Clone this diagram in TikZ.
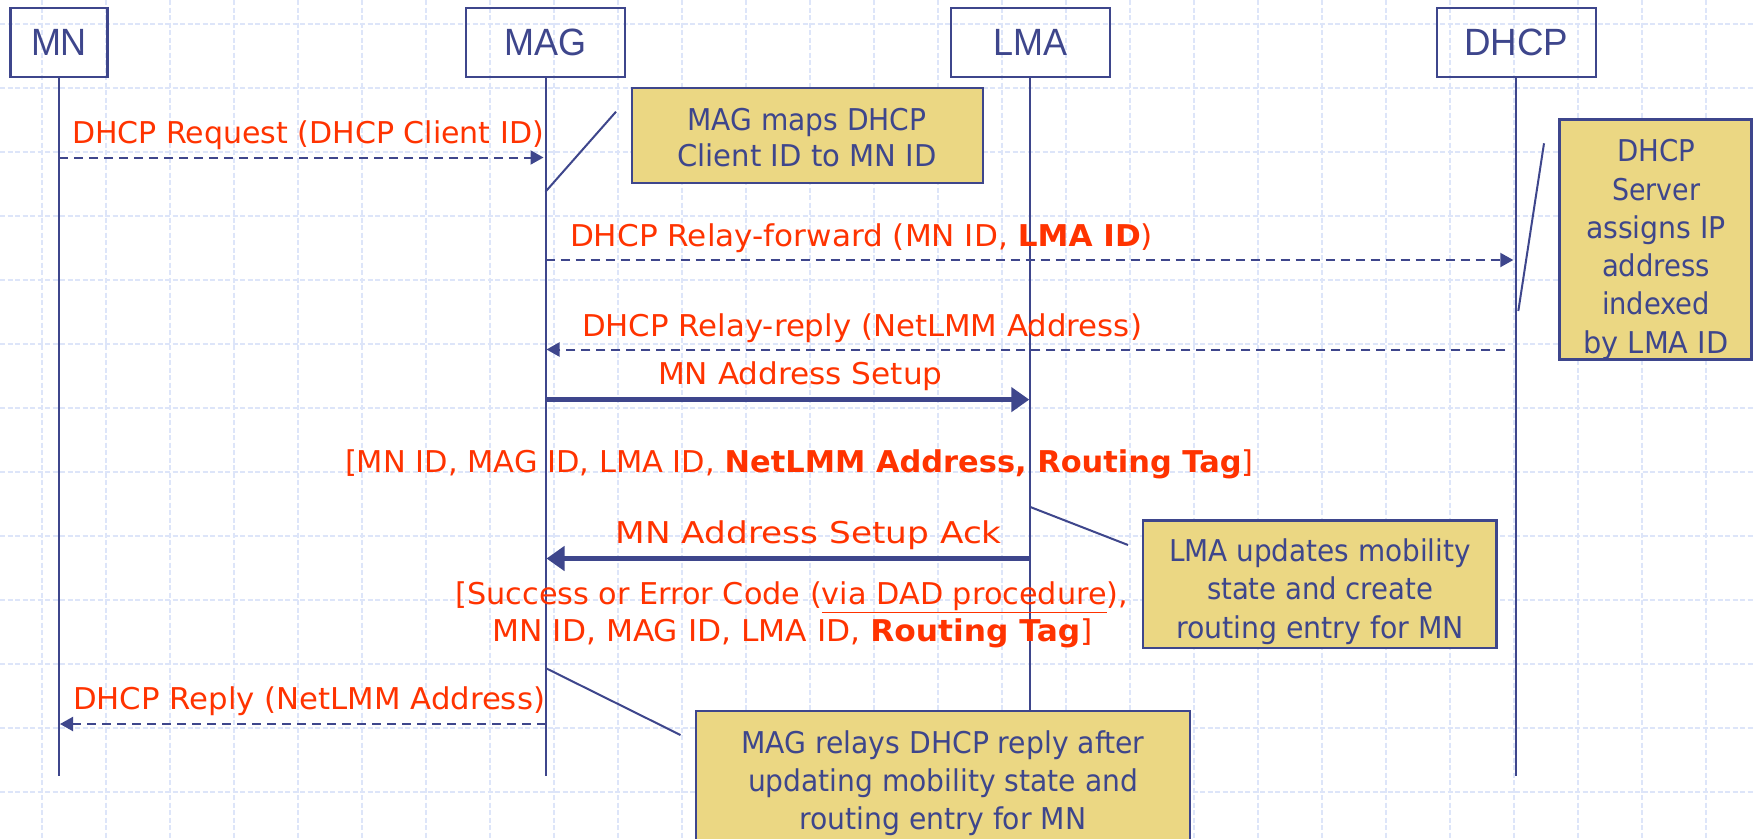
\documentclass[tikz,border=0pt]{standalone}
\usepackage{fontspec}
\usepackage{graphicx}
\usetikzlibrary{arrows.meta}
\newfontfamily\headfont{Liberation Sans}
\newfontfamily\notefont{DejaVu Sans Condensed}
\newfontfamily\msgfont{DejaVu Sans}
\definecolor{ink}{RGB}{62,70,140}
\definecolor{msg}{RGB}{255,51,0}
\definecolor{notefill}{RGB}{235,215,131}
\definecolor{gridc}{RGB}{221,229,249}
% set a text at its natural height, stretched or squeezed to a given width (in pt)
\newsavebox\fitbox
\newcommand\fitto[2]{\sbox\fitbox{#2}\edef\fitf{\fpeval{(#1)/(\the\wd\fitbox)}}\scalebox{\fitf}[1]{\usebox\fitbox}}
\begin{document}
\begin{tikzpicture}[x=1pt,y=-1pt,
  gridline/.style={draw=gridc,line width=1.5pt,dash pattern=on 5pt off 2.5pt},
  actor/.style={draw=ink,line width=2.5pt,text=ink,minimum height=69pt,inner sep=0pt,
    font=\headfont\fontsize{38}{40}\selectfont},
  life/.style={draw=ink,line width=2pt},
  dasharrow/.style={draw=ink,line width=2pt,dash pattern=on 9pt off 6pt,
    -{Triangle[length=13pt,width=14pt]}},
  bigarrow/.style={draw=ink,line width=5.5pt,-{Triangle[length=18pt,width=24pt]}},
  msgtext/.style={text=msg,inner sep=0pt,anchor=base,font=\msgfont\fontsize{30}{36}\selectfont},
  notebox/.style={draw=ink,line width=2.5pt,fill=notefill,inner sep=0pt},
  notetext/.style={text=ink,inner sep=0pt,anchor=base},
  callout/.style={draw=ink,line width=2pt}]
\useasboundingbox (0,0) rectangle (1755,838);
\clip (0,0) rectangle (1755,838);
\fill[white] (0,0) rectangle (1755,838);

% background grid
\foreach \gx in {42,106,...,1706} \draw[gridline] (\gx,0) -- (\gx,838);
\foreach \gy in {24,88,...,792} \draw[gridline] (0,\gy) -- (1755,\gy);

% participants
\node[actor,minimum width=97pt]  (mn)   at (59,42.5)     {\fitto{56}{MN}};
\node[actor,minimum width=159pt] (mag)  at (545.5,42.5)  {\fitto{82}{MAG}};
\node[actor,minimum width=159pt] (lma)  at (1030.3,42.5) {\fitto{74}{LMA}};
\node[actor,minimum width=159pt] (dhcp) at (1516.3,42.5) {\fitto{104}{DHCP}};

% lifelines
\coordinate (lifeend) at (0,775.5);
\draw[life] (mn.south)   -- (mn.south |- lifeend);
\draw[life] (mag.south)  -- (mag.south |- lifeend);
\draw[life] (lma.south)  -- (lma.south |- lifeend);
\draw[life] (dhcp.south) -- (dhcp.south |- lifeend);

% message rows
\coordinate (r1) at (0,157.5);
\coordinate (r2) at (0,260);
\coordinate (r3) at (0,349.5);
\coordinate (r4) at (0,399.6);
\coordinate (r5) at (0,558.5);
\coordinate (r6) at (0,724);

\draw[dasharrow,shorten >=2pt] (mn.south |- r1) -- (mag.south |- r1);
\draw[dasharrow,shorten >=3pt] (mag.south |- r2) -- (dhcp.south |- r2);
\draw[dasharrow,shorten <=11pt,shorten >=1pt] (dhcp.south |- r3) -- (mag.south |- r3);
\draw[bigarrow,shorten >=1pt] (mag.south |- r4) -- (lma.south |- r4);
\draw[bigarrow,shorten >=1pt] (lma.south |- r5) -- (mag.south |- r5);
\draw[dasharrow,shorten >=1pt] (mag.south |- r6) -- (mn.south |- r6);

% message labels
\node[msgtext] (l1) at (308,143)     {\fitto{472}{DHCP Request (DHCP Client ID)}};
\node[msgtext] (l2) at (861.5,246)   {\fitto{583}{DHCP Relay-forward (MN ID, \textbf{LMA ID})}};
\node[msgtext] (l3) at (862,336)     {\fitto{560}{DHCP Relay-reply (NetLMM Address)}};
\node[msgtext] (l4) at (800.3,384)   {\fitto{284.5}{MN Address Setup}};
\node[msgtext] (l5) at (799.3,472)   {\fitto{908.6}{[MN ID, MAG ID, LMA ID, \textbf{NetLMM Address, Routing Tag}]}};
\node[msgtext] (l6) at (808.7,543)   {\fitto{386}{MN Address Setup Ack}};
\node[msgtext] (l7) at (791.8,604.5) {\fitto{672.5}{[Success or Error Code (\underline{via DAD procedure}),}};
\node[msgtext] (l8) at (792.5,641.4) {\fitto{600}{MN ID, MAG ID, LMA ID, \textbf{Routing Tag}]}};
\node[msgtext] (l9) at (309,709.7)   {\fitto{472}{DHCP Reply (NetLMM Address)}};

% callout pointers
\coordinate (c1) at (0,191.7);   \coordinate (c1e) at (616,111.7);
\coordinate (c2) at (0,311);     \coordinate (c2e) at (1544,143.3);
\coordinate (c3) at (0,507);     \coordinate (c3e) at (1128,545);
\coordinate (c4) at (0,668);     \coordinate (c4e) at (680.5,735);
\draw[callout] (mag.south |- c1) -- (c1e);
\draw[callout] ([xshift=2pt]dhcp.south |- c2) -- (c2e);
\draw[callout] (lma.south |- c3) -- (c3e);
\draw[callout] (mag.south |- c4) -- (c4e);

% notes
\node[notebox,minimum width=351pt,minimum height=95pt] (n1) at (807.5,135.5) {};
\node[notetext,font=\notefont\fontsize{30}{36.7}\selectfont] (n1t) at (807,130)
  {\begin{tabular}[t]{@{}c@{}}\fitto{239}{MAG maps DHCP}\\\fitto{259}{Client ID to MN ID}\end{tabular}};

\node[notebox,minimum width=192.4pt,minimum height=240pt] (n2) at (1655.5,239.3) {};
\node[notetext,font=\notefont\fontsize{30}{38.3}\selectfont] (n2t) at (1656,161.7)
  {\begin{tabular}[t]{@{}c@{}}\fitto{78}{DHCP}\\\fitto{88}{Server}\\\fitto{140}{assigns IP}\\
   \fitto{108}{address}\\\fitto{108}{indexed}\\\fitto{145}{by LMA ID}\end{tabular}};

\node[notebox,minimum width=353.5pt,minimum height=127.5pt] (n3) at (1319.7,584.2) {};
\node[notetext,font=\notefont\fontsize{30}{38.3}\selectfont] (n3t) at (1320,561.5)
  {\begin{tabular}[t]{@{}c@{}}\fitto{302}{LMA updates mobility}\\\fitto{226}{state and create}\\
   \fitto{288}{routing entry for MN}\end{tabular}};

\node[notebox,minimum width=494pt,minimum height=149pt] (n4) at (943,785.5) {};
\node[notetext,font=\notefont\fontsize{30}{38.3}\selectfont] (n4t) at (943,753)
  {\begin{tabular}[t]{@{}c@{}}\fitto{403}{MAG relays DHCP reply after}\\\fitto{390}{updating mobility state and}\\
   \fitto{286.5}{routing entry for MN}\end{tabular}};
\end{tikzpicture}
\end{document}
